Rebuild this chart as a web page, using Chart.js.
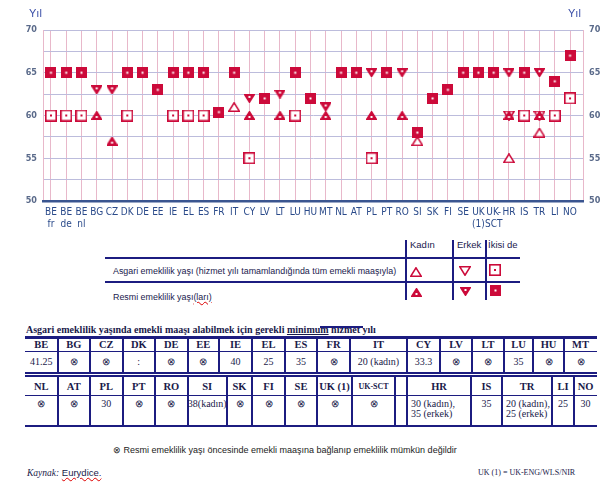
<!DOCTYPE html>
<html>
<head>
<meta charset="utf-8">
<script src="https://cdn.jsdelivr.net/npm/chart.js@4"></script>
<style>
  body { margin: 0; background: #fff; width: 608px; height: 485px; overflow: hidden; position: relative; font-family: "Liberation Sans", Arial, sans-serif; }
  .abs { position: absolute; white-space: nowrap; }
  .ln { position: absolute; background: #1c1c80; }
  .lg { font-size: 9.5px; color: #1a1a4e; }
  .lr { font-size: 8.9px; color: #1a1a4e; }
  .th { font-family: "Liberation Serif", "Times New Roman", serif; font-weight: bold; font-size: 10.5px; color: #1a1a4a; text-align: center; }
  .td { font-family: "Liberation Serif", "Times New Roman", serif; font-size: 10px; color: #1a1a4a; text-align: center; }
</style>
</head>
<body>
<div class="abs" style="left:0;top:0;width:608px;height:236px;">
  <canvas id="chart"></canvas>
</div>
<div class="abs" style="left:29px;top:7px;font-size:11px;color:#3b4fa8;">Yıl</div>
<div class="abs" style="left:568px;top:7px;font-size:11px;color:#3b4fa8;">Yıl</div>
<div id="extra"></div>

<script>
// categories
const countries = [
  ["BE", "fr"], ["BE", "de"], ["BE", "nl"], "BG", "CZ", "DK", "DE", "EE", "IE", "EL", "ES", "FR", "IT", "CY",
  "LV", "LT", "LU", "HU", "MT", "NL", "AT", "PL", "PT", "RO", "SI", "SK", "FI", "SE",
  ["UK", "(1)"], ["UK-", "SCT"], "HR", "IS", "TR", "LI", "NO"
];

// statutory retirement age (filled markers)
const statBoth  = [65, 65, 65, null, null, 65, 65, 63, 65, 65, 65, 60.4, 65, null, 62, null, 65, 62, null, 65, 65, null, 65, null, 58, 62, 63, 65, 65, 65, null, 65, null, 64, 67];
const statWomen = [null, null, null, 60, 57, null, null, null, null, null, null, null, null, 60, null, 60, null, null, 60, null, null, 60, null, 60, null, null, null, null, null, null, 60, null, 60, null, null];
const statMen   = [null, null, null, 63, 63, null, null, null, null, null, null, null, null, 62, null, 62.5, null, null, 61, null, null, 65, null, 65, null, null, null, null, null, null, 65, null, 65, null, null];

// minimum retirement age with full pension (hollow markers)
const minBoth  = [60, 60, 60, null, null, 60, null, null, 60, 60, 60, null, null, 55, null, null, 60, null, null, null, null, 55, null, null, null, null, null, null, null, null, null, 60, null, 60, 62];
const minWomen = [null, null, null, null, null, null, null, null, null, null, null, null, 61, null, null, null, null, null, null, null, null, null, null, null, 57, null, null, null, null, null, 55, null, 58, null, null];
const minMen   = [null, null, null, null, null, null, null, null, null, null, null, null, null, null, null, null, null, null, null, null, null, null, null, null, null, null, null, null, null, null, 60, null, 60, null, null];

// table: minimum years of service
const t1Head = ["BE", "BG", "CZ", "DK", "DE", "EE", "IE", "EL", "ES", "FR", "IT", "CY", "LV", "LT", "LU", "HU", "MT"];
const t1Vals = ["41.25", "⊗", "⊗", ":", "⊗", "⊗", "40", "25", "35", "⊗", "20 (kadın)", "33.3", "⊗", "⊗", "35", "⊗", "⊗"];
const t2Head = ["NL", "AT", "PL", "PT", "RO", "SI", "SK", "FI", "SE", "UK (1)", "UK-SCT", "", "HR", "IS", "TR", "LI", "NO"];
const t2Vals = ["⊗", "⊗", "30", "⊗", "⊗", "38(kadın)", "⊗", "⊗", "⊗", "⊗", "⊗", "", "30 (kadın),<br>35 (erkek)", "35", "20 (kadın),<br>25 (erkek)", "25", "30"];

const RED = "#cc0a3a";

function marker(kind) {
  const c = document.createElement("canvas");
  const hollow = kind.startsWith("h");
  const w = hollow ? 12 : 11, h = kind.endsWith("sq") ? w : (hollow ? 10 : 9);
  c.width = w; c.height = h;
  const g = c.getContext("2d");
  g.fillStyle = RED; g.strokeStyle = RED; g.lineWidth = 1.6;
  if (kind.endsWith("sq")) {
    if (hollow) {
      g.fillStyle = "#fff"; g.fillRect(0, 0, w, h);
      g.strokeRect(0.8, 0.8, w - 1.6, h - 1.6);
      g.fillStyle = RED; g.fillRect(5, 5, 2, 2);
    } else {
      g.fillRect(0, 0, w, h);
      g.fillStyle = "#fff"; g.fillRect(4.5, 4.5, 2, 2);
    }
    return c;
  }
  const up = kind.endsWith("up");
  g.beginPath();
  if (up) { g.moveTo(w / 2, 0.8); g.lineTo(w - 0.8, h - 0.8); g.lineTo(0.8, h - 0.8); }
  else { g.moveTo(0.8, 0.8); g.lineTo(w - 0.8, 0.8); g.lineTo(w / 2, h - 0.8); }
  g.closePath();
  if (hollow) { g.fillStyle = "#fff"; g.fill(); g.stroke(); }
  else {
    g.fill(); g.stroke();
    g.fillStyle = "#fff"; g.fillRect(w / 2 - 1, up ? 5 : 2, 2, 2);
  }
  return c;
}

const pts = arr => arr.map((v, i) => v == null ? null : { x: i, y: v }).filter(p => p);

const set = (data, kind) => ({
  data: pts(data),
  pointStyle: marker(kind),
  pointRadius: 6,
  showLine: false,
});

const tickFont = { family: "'Liberation Sans Narrow', 'DejaVu Sans Condensed', sans-serif", size: 9, weight: "bold" };

new Chart(document.getElementById("chart"), {
  type: "scatter",
  data: {
    datasets: [
      set(statMen, "fdown"),
      set(statWomen, "fup"),
      set(statBoth, "fsq"),
      set(minMen, "hdown"),
      set(minWomen, "hup"),
      set(minBoth, "hsq"),
    ],
  },
  options: {
    responsive: true,
    maintainAspectRatio: false,
    animation: false,
    events: [],
    layout: { padding: { top: 30 } },
    plugins: { legend: { display: false }, tooltip: { enabled: false } },
    scales: {
      x: {
        type: "linear",
        min: -0.52,
        max: 34.85,
        afterBuildTicks: s => { s.ticks = countries.map((_, i) => ({ value: i })); },
        afterFit: s => { s.height = 35; },
        grid: { color: "#e8b8ca", drawTicks: false },
        border: { color: "#3a5590", width: 2.5, z: 1 },
        ticks: {
          autoSkip: false,
          maxRotation: 0,
          padding: 5,
          color: "#2a4a8a",
          font: { family: "'Liberation Sans Narrow', 'DejaVu Sans Condensed', sans-serif", size: 10 },
          callback: v => countries[v],
        },
      },
      y: {
        min: 50,
        max: 70,
        afterFit: s => { s.width = 43; },
        grid: { color: "#bcbcdc", drawTicks: false },
        border: { color: "#e8b8ca" },
        ticks: { stepSize: 2.5, padding: 6, color: "#5a6a8a", font: tickFont, callback: v => v % 5 === 0 ? v : "" },
      },
      y2: {
        position: "right",
        min: 50,
        max: 70,
        afterFit: s => { s.width = 25; },
        grid: { display: false, drawTicks: false },
        border: { color: "#e8b8ca" },
        ticks: { stepSize: 2.5, padding: 6, color: "#5a6a8a", font: tickFont, callback: v => v % 5 === 0 ? v : "" },
      },
    },
  },
});

// legend block and table under the chart
const extra = document.getElementById("extra");
function add(html, style, cls) {
  const d = document.createElement("div");
  d.className = cls || "abs";
  d.style.cssText = style;
  d.innerHTML = html;
  extra.appendChild(d);
  return d;
}
function line(x, y, w, h) { add("", `left:${x}px;top:${y}px;width:${w}px;height:${h}px;`, "ln"); }

line(105, 257, 415, 2);
line(105, 281, 415, 2);
[405, 452, 485].forEach(x => line(x, 240, 2, 60));
add("Kadın", "left:410px;top:239px;", "abs lg");
add("Erkek", "left:457px;top:239px;", "abs lg");
add("İkisi de", "left:488px;top:239px;", "abs lg");
add("Asgari emeklilik yaşı (hizmet yılı tamamlandığında tüm emekli maaşıyla)", "left:113px;top:266px;", "abs lr");
add('Resmi emeklilik yaşı<span style="text-decoration:underline wavy #d00;">(ları)</span>', "left:113px;top:292px;", "abs lr");
[["hup", 416, 272], ["hdown", 465, 271], ["hsq", 495, 270], ["fup", 416, 292], ["fdown", 465, 291], ["fsq", 495, 290]].forEach(([k, x, y]) => {
  const c = marker(k);
  c.style.cssText = `position:absolute;left:${x - c.width / 2}px;top:${y - c.height / 2}px;`;
  extra.appendChild(c);
});

add('Asgari emeklilik yaşında emekli maaşı alabilmek için gerekli <u>minimum</u> hizmet yılı',
  "left:26px;top:324px;font-family:'Liberation Serif',serif;font-weight:bold;font-size:10px;color:#1a1a4a;");
line(320, 326, 43, 2);

const t1Edges = [25, 57.5, 90, 122.5, 155, 187.5, 219, 252, 285, 317, 350, 407, 440, 472, 504, 533, 564, 597];
const t2Edges = [25, 57.5, 90, 122.5, 155, 187.5, 227, 252, 285, 317, 352, 395, 407, 471, 502, 552, 574, 597];

line(25, 336, 572, 3);
line(25, 351, 572, 1);
line(25, 372, 572, 2);
line(25, 375, 572, 2);
line(25, 395, 572, 1);
line(25, 425, 572, 2);
t1Edges.slice(1, -1).forEach(x => line(x - 1, 339, 2, 33));
t2Edges.slice(1, -1).forEach(x => line(x - 1, 377, 2, 48));

t1Head.forEach((h, i) => {
  const l = t1Edges[i], w = t1Edges[i + 1] - l;
  add(h, `left:${l}px;top:339px;width:${w}px;line-height:12px;`, "abs th");
  add(t1Vals[i], `left:${l}px;top:352px;width:${w}px;line-height:20px;`, "abs td");
});
t2Head.forEach((h, i) => {
  const l = t2Edges[i], w = t2Edges[i + 1] - l;
  const small = h === "UK-SCT" ? "font-size:8px;" : "";
  add(h, `left:${l}px;top:378px;width:${w}px;line-height:17px;${small}`, "abs th");
  const multi = t2Vals[i].includes("<br>");
  add(t2Vals[i], `left:${l + (multi ? 4 : 0)}px;top:399px;width:${w - (multi ? 4 : 0)}px;line-height:10px;${multi ? "text-align:left;" : ""}`, "abs td");
});

add("⊗ Resmi emeklilik yaşı öncesinde emekli maaşına bağlanıp emeklilik mümkün değildir",
  "left:113px;top:445px;font-size:9px;color:#222;");
add('<i style="font-family:\'Liberation Serif\',serif;">Kaynak:</i> <span style="text-decoration:underline wavy #d00;">Eurydice.</span>',
  "left:27px;top:467px;font-size:9.5px;color:#1a1a4a;");
add("UK (1) = UK-ENG/WLS/NIR",
  "left:478px;top:468px;font-family:'Liberation Serif',serif;font-size:8px;color:#1a1a4a;");
</script>
</body>
</html>
